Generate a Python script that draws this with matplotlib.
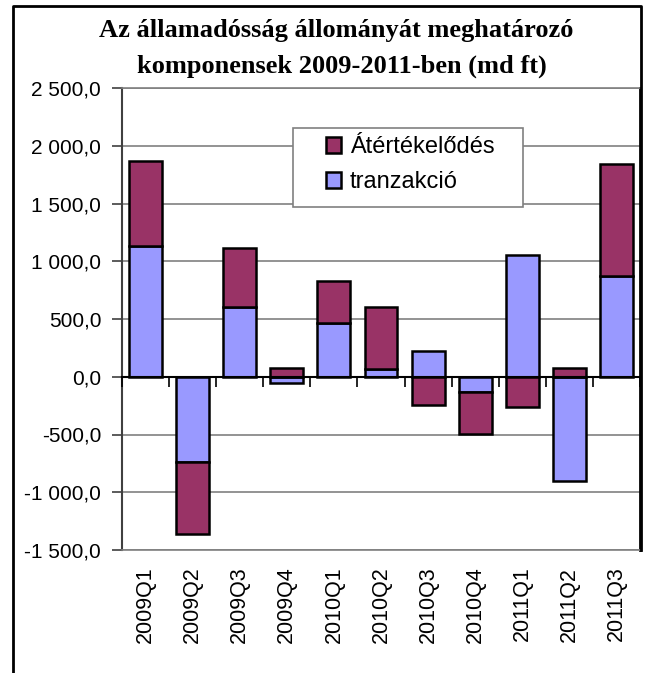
import matplotlib
matplotlib.use('Agg')
import matplotlib.pyplot as plt
import numpy as np
from matplotlib.patches import Rectangle
from matplotlib.lines import Line2D
from matplotlib.ticker import FuncFormatter

# quarters and the two components (md ft)
quarters = ['2009Q1', '2009Q2', '2009Q3', '2009Q4', '2010Q1', '2010Q2',
            '2010Q3', '2010Q4', '2011Q1', '2011Q2', '2011Q3']
tranzakcio = [1128, -738, 602, -58, 466, 66, 226, -136, 1056, -906, 868]
atertekelodes = [738, -622, 512, 72, 362, 536, -246, -356, -266, 72, 978]

col_tranz = '#9999FF'
col_atert = '#993366'
W, H = 646, 673

plt.rcParams['font.family'] = ['Liberation Sans', 'DejaVu Sans']

fig = plt.figure(figsize=(W / 100, H / 100), dpi=100)
ax = fig.add_axes([122 / W, 1 - 550 / H, (640 - 122) / W, (550 - 88) / H])

x = np.arange(len(quarters))
tr = np.array(tranzakcio, dtype=float)
at = np.array(atertekelodes, dtype=float)

# excel style stacking: positives on positives, negatives on negatives
bottom_at = np.where(np.sign(at) == np.sign(tr), tr, 0)

ax.bar(x, tr, width=0.7, color=col_tranz, edgecolor='black', linewidth=1.8,
       label='tranzakció', zorder=3)
ax.bar(x, at, width=0.7, bottom=bottom_at, color=col_atert,
       edgecolor='black', linewidth=1.8, label='Átértékelődés', zorder=3)

ax.set_xlim(-0.5, len(quarters) - 0.5)
ax.set_ylim(-1500, 2500)
ax.set_yticks(np.arange(-1500, 2501, 500))
ax.yaxis.set_major_formatter(FuncFormatter(
    lambda v, p: '{:,.1f}'.format(v).replace(',', ' ').replace('.', ',')))
ax.grid(axis='y', color='#808080', linewidth=1.2, zorder=0)
ax.set_axisbelow(True)

ax.set_xticks(x)
ax.set_xticklabels(quarters, rotation=90, fontsize=15.5)
ax.tick_params(axis='x', length=0, pad=12)
ax.tick_params(axis='y', labelsize=15, length=7, width=1.2, pad=8,
               color='#404040')

for side in ['top', 'bottom']:
    ax.spines[side].set_color('#808080')
    ax.spines[side].set_linewidth(1.2)
ax.spines['left'].set_color('#404040')
ax.spines['left'].set_linewidth(1.5)
ax.spines['right'].set_color('black')
ax.spines['right'].set_linewidth(2)

# category axis crossing at zero with tick marks between categories
zero_ax = ax.secondary_xaxis(1500 / 4000)
zero_ax.set_xticks(np.arange(-0.5, len(quarters), 1.0))
zero_ax.tick_params(axis='x', direction='out', length=7, width=1.2,
                    labelbottom=False, color='black')
zero_ax.spines['bottom'].set_color('black')
zero_ax.spines['bottom'].set_linewidth(1.5)
zero_ax.set_zorder(4)

# legend with its box
fig.patches.append(Rectangle((293 / W, 1 - 207 / H), 230 / W, 79 / H,
                             transform=fig.transFigure, facecolor='white',
                             edgecolor='#808080', linewidth=1.2, zorder=5))
handles, labels = ax.get_legend_handles_labels()
leg = fig.legend(handles[::-1], labels[::-1], loc='upper left',
                 bbox_to_anchor=(326 / W, 1 - 136 / H), frameon=False,
                 fontsize=17, handlelength=0.65, handleheight=0.65,
                 handletextpad=0.35, labelspacing=0.55, borderaxespad=0,
                 borderpad=0)
leg.set_zorder(6)

# title
fig.text(336 / W, 1 - 37 / H, 'Az államadósság állományát meghatározó',
         ha='center', va='baseline', fontsize=19, fontweight='bold',
         family='Liberation Serif')
fig.text(342 / W, 1 - 73 / H, 'komponensek 2009-2011-ben (md ft)',
         ha='center', va='baseline', fontsize=19, fontweight='bold',
         family='Liberation Serif')

# outer chart frame
fig.lines.append(Line2D([13 / W, 13 / W, 641 / W, 641 / W],
                        [0, 1 - 6 / H, 1 - 6 / H, 1 - 550 / H],
                        transform=fig.transFigure, color='black',
                        linewidth=2))

fig.savefig('out.png', dpi=100, facecolor='white')
